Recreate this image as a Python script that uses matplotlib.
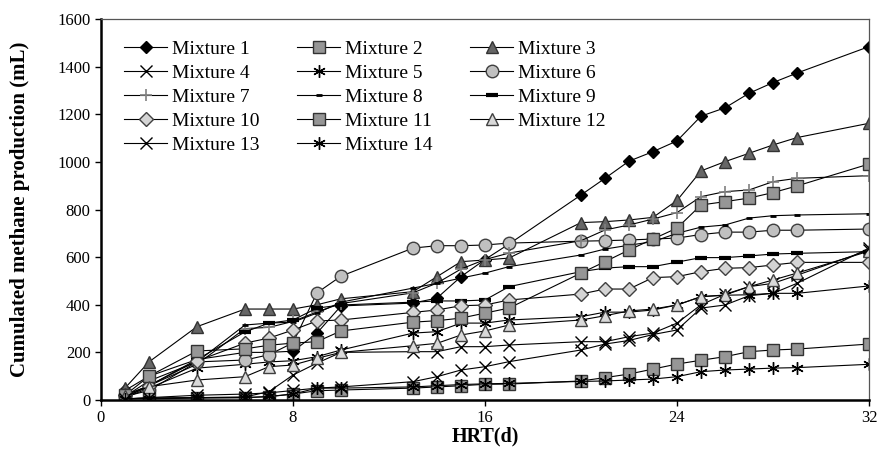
import matplotlib
matplotlib.use('Agg')
import matplotlib.pyplot as plt

plt.rcParams['font.family'] = ['Liberation Serif', 'DejaVu Serif']

days = [1, 2, 4, 6, 7, 8, 9, 10, 13, 14, 15, 16, 17, 20, 21, 22, 23, 24, 25, 26, 27, 28, 29, 32]

mix1 = [40, 100, 170, 200, 200, 205, 281, 395, 407, 428, 518, 590, 655, 861, 931, 1003, 1043, 1088, 1192, 1227, 1288, 1333, 1373, 1484]
mix2 = [5, 8, 10, 10, 14, 25, 39, 42, 50, 55, 60, 66, 67, 80, 94, 109, 130, 151, 167, 182, 203, 210, 214, 235]
mix3 = [50, 160, 308, 382, 382, 382, 400, 425, 455, 518, 581, 588, 596, 745, 749, 756, 767, 838, 962, 1001, 1036, 1071, 1102, 1162]
mix4 = [5, 8, 10, 13, 35, 105, 155, 200, 203, 203, 224, 224, 231, 245, 245, 266, 281, 323, 400, 444, 476, 490, 524, 630]
mix5 = [10, 50, 134, 150, 160, 165, 182, 210, 281, 287, 323, 323, 336, 350, 369, 369, 378, 399, 434, 440, 442, 448, 448, 479]
mix6 = [15, 40, 160, 168, 190, 240, 450, 520, 638, 648, 648, 651, 659, 667, 669, 672, 676, 680, 695, 705, 705, 713, 713, 718]
mix7 = [20, 60, 150, 300, 305, 330, 370, 405, 450, 491, 550, 590, 617, 669, 714, 735, 760, 787, 854, 875, 882, 917, 931, 942]
mix8 = [15, 80, 160, 315, 323, 327, 365, 411, 470, 490, 512, 533, 560, 609, 634, 650, 665, 700, 726, 735, 764, 774, 777, 782]
mix9 = [10, 60, 170, 286, 323, 336, 386, 399, 411, 416, 416, 420, 476, 539, 554, 560, 560, 579, 598, 598, 605, 613, 616, 623]
mix10 = [20, 60, 164, 239, 260, 294, 332, 336, 368, 378, 396, 399, 420, 445, 466, 466, 514, 518, 539, 553, 556, 567, 578, 578]
mix11 = [20, 100, 206, 215, 230, 239, 245, 290, 327, 333, 344, 365, 386, 533, 581, 630, 676, 722, 819, 833, 848, 871, 899, 991]
mix12 = [15, 56, 84, 98, 140, 147, 175, 200, 228, 238, 273, 290, 315, 336, 354, 374, 382, 399, 434, 441, 476, 504, 533, 625]
mix13 = [5, 10, 20, 25, 30, 40, 50, 55, 77, 98, 126, 140, 161, 210, 235, 250, 275, 294, 386, 399, 438, 448, 490, 638]
mix14 = [5, 5, 8, 10, 15, 25, 50, 50, 55, 60, 65, 68, 70, 78, 80, 84, 88, 98, 119, 126, 130, 134, 136, 150]

labels = ['Mixture %d' % i for i in range(1, 15)]
series = [mix1, mix2, mix3, mix4, mix5, mix6, mix7, mix8, mix9, mix10, mix11, mix12, mix13, mix14]

asterisk = (6, 2, 0)
styles = [
    dict(marker='D', ms=6.5, mfc='black', mec='black'),
    dict(marker='s', ms=8, mfc='#969696', mec='#333333'),
    dict(marker='^', ms=9, mfc='#666666', mec='#333333'),
    dict(marker='x', ms=8, mfc='none', mec='black', mew=1.0),
    dict(marker=asterisk, ms=9, mfc='none', mec='black', mew=1.0),
    dict(marker='o', ms=9, mfc='#c0c0c0', mec='#404040'),
    dict(marker='+', ms=9, mfc='none', mec='#808080', mew=1.2),
    dict(marker='_', ms=5, mfc='none', mec='black', mew=2.0),
    dict(marker='_', ms=8, mfc='none', mec='black', mew=3.0),
    dict(marker='D', ms=7, mfc='#d4d4d4', mec='#404040'),
    dict(marker='s', ms=8, mfc='#969696', mec='#333333'),
    dict(marker='^', ms=9, mfc='#d9d9d9', mec='#404040'),
    dict(marker='x', ms=8, mfc='none', mec='black', mew=1.0),
    dict(marker=asterisk, ms=9, mfc='none', mec='black', mew=1.0),
]

fig = plt.figure(figsize=(8.81, 4.70), dpi=100)
ax = fig.add_axes([0.1146, 0.1489, 0.8718, 0.8107])

handles = []
for vals, lab, st in zip(series, labels, styles):
    h, = ax.plot(days, vals, color='black', lw=0.8, label=lab, **st)
    handles.append(h)

ax.set_xlim(0, 32)
ax.set_ylim(0, 1600)
ax.set_xticks([0, 8, 16, 24, 32])
ax.set_yticks(range(0, 1601, 200))
ax.tick_params(labelsize=12, direction='out', length=4, width=1)

for side in ['left', 'bottom']:
    ax.spines[side].set_linewidth(1.8)
    ax.spines[side].set_color('black')
for side in ['top', 'right']:
    ax.spines[side].set_linewidth(0.9)
    ax.spines[side].set_color('#555555')

ax.set_xlabel('HRT(d)', fontsize=14.5, fontweight='bold', labelpad=0)
ax.set_ylabel('Cumulated methane production (mL)', fontsize=15, fontweight='bold', labelpad=20)

# legend is filled row by row in the reference
order = [0, 3, 6, 9, 12, 1, 4, 7, 10, 13, 2, 5, 8, 11]
ax.legend([handles[i] for i in order], [labels[i] for i in order],
          ncol=3, loc='upper left', bbox_to_anchor=(0.015, 0.975),
          frameon=False, fontsize=14, handlelength=2.2, handletextpad=0.25,
          columnspacing=1.95, labelspacing=0.33, borderaxespad=0.2)

fig.savefig('out.png', dpi=100)
